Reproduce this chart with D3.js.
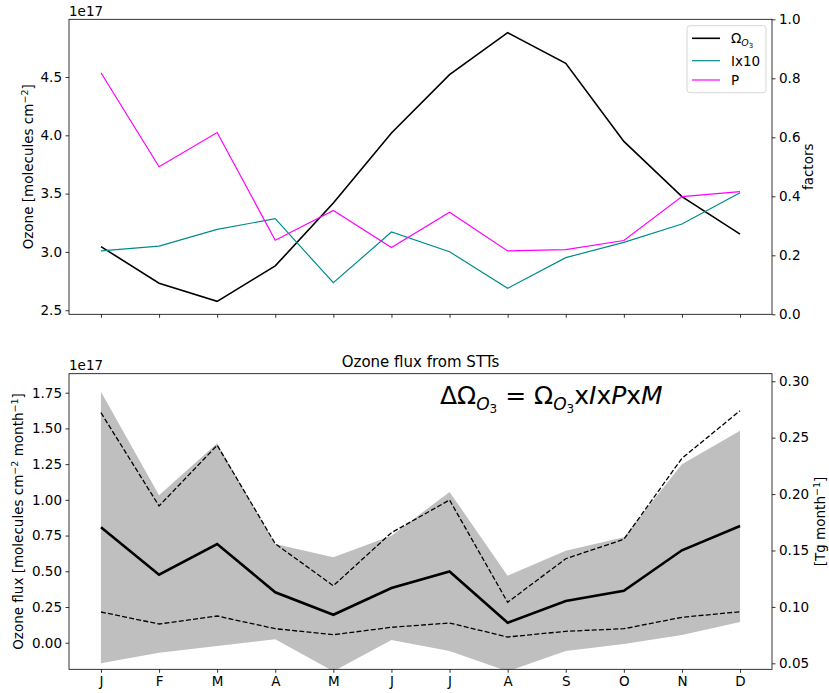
<!DOCTYPE html>
<html><head><meta charset="utf-8">
<script src="https://cdn.jsdelivr.net/npm/d3@7"></script>
<style>body{margin:0;background:#fff;} text{font-family:"DejaVu Sans",sans-serif;fill:#000;}</style>
</head><body>
<svg id="c" width="829" height="693"></svg>
<script>
const months = ["J","F","M","A","M","J","J","A","S","O","N","D"];
// top panel (ozone column, 1e17 molecules cm^-2)
const ozone = [3.046,2.731,2.576,2.88,3.42,4.02,4.52,4.88,4.618,3.948,3.474,3.152];
// factors (right axis)
const ix10 = [0.215,0.231,0.288,0.324,0.107,0.279,0.212,0.088,0.192,0.244,0.306,0.412];
const pFac = [0.819,0.500,0.616,0.251,0.352,0.226,0.346,0.215,0.219,0.250,0.399,0.416];
// bottom panel (ozone flux, 1e17 molecules cm^-2 month^-1)
const fluxMean = [0.808,0.476,0.691,0.353,0.196,0.383,0.499,0.140,0.292,0.364,0.647,0.817];
const fluxHighDash = [1.61,0.957,1.382,0.693,0.399,0.77,0.999,0.283,0.588,0.724,1.291,1.624];
const fluxLowDash = [0.215,0.131,0.187,0.098,0.056,0.108,0.138,0.040,0.080,0.098,0.178,0.217];
const bandUpper = [1.757,1.032,1.396,0.691,0.598,0.749,1.055,0.469,0.644,0.738,1.249,1.484];
const bandLower = [-0.144,-0.07,-0.023,0.024,-0.20,0.019,-0.058,-0.20,-0.058,-0.009,0.054,0.145];
const topLeftTicks = [2.5,3.0,3.5,4.0,4.5];
const topRightTicks = [0.0,0.2,0.4,0.6,0.8,1.0];
const botLeftTicks = [0.00,0.25,0.50,0.75,1.00,1.25,1.50,1.75];
const botRightTicks = [0.05,0.10,0.15,0.20,0.25,0.30];

const svg = d3.select("#c");
const L = 69, R = 772;
const x = d3.scaleLinear().domain([-0.55, 11.55]).range([L, R]);
const idx = d3.range(12);
const FS = 13.5;

function panel(top, bottom, id){
  const g = svg.append("g");
  svg.append("clipPath").attr("id", id).append("rect")
    .attr("x", L).attr("y", top).attr("width", R-L).attr("height", bottom-top);
  return g;
}
function yAxisLeft(y, ticks, fmt){
  const a = svg.append("g").attr("transform", `translate(${L},0)`)
    .call(d3.axisLeft(y).tickValues(ticks).tickFormat(fmt).tickSize(3.5).tickPadding(3.5));
  a.select(".domain").remove();
  a.selectAll("text").style("font-size", FS+"px").attr("fill","#000");
  a.selectAll("line").attr("stroke","#000").attr("stroke-width",0.8);
}
function yAxisRight(y, ticks, fmt){
  const a = svg.append("g").attr("transform", `translate(${R},0)`)
    .call(d3.axisRight(y).tickValues(ticks).tickFormat(fmt).tickSize(3.5).tickPadding(3.5));
  a.select(".domain").remove();
  a.selectAll("text").style("font-size", FS+"px").attr("fill","#000");
  a.selectAll("line").attr("stroke","#000").attr("stroke-width",0.8);
}
function xAxis(yPos, labels){
  const a = svg.append("g").attr("transform", `translate(0,${yPos})`)
    .call(d3.axisBottom(x).tickValues(idx).tickFormat(labels ? (i=>months[i]) : (()=>"")).tickSize(3.5).tickPadding(3.5));
  a.select(".domain").remove();
  a.selectAll("text").style("font-size", FS+"px").attr("fill","#000");
  a.selectAll("line").attr("stroke","#000").attr("stroke-width",0.8);
}
function frame(top, bottom){
  svg.append("rect").attr("x",L).attr("y",top).attr("width",R-L).attr("height",bottom-top)
    .attr("fill","none").attr("stroke","#000").attr("stroke-width",0.8);
}

// ---------- TOP PANEL ----------
const T1 = 19.3, B1 = 314.3;
const y1 = d3.scaleLinear().domain([2.465, 4.995]).range([B1, T1]);
const y1r = d3.scaleLinear().domain([0,1]).range([B1, T1]);
panel(T1, B1, "clipTop");
const gTop = svg.append("g").attr("clip-path","url(#clipTop)");
const lineL = d3.line().x((d,i)=>x(i)).y(d=>y1(d));
const lineR = d3.line().x((d,i)=>x(i)).y(d=>y1r(d));
gTop.append("path").datum(ozone).attr("d", lineL).attr("fill","none").attr("stroke","#000").attr("stroke-width",1.6);
gTop.append("path").datum(ix10).attr("d", lineR).attr("fill","none").attr("stroke","#008b8b").attr("stroke-width",1.2);
gTop.append("path").datum(pFac).attr("d", lineR).attr("fill","none").attr("stroke","#ff00ff").attr("stroke-width",1.2);
frame(T1, B1);
yAxisLeft(y1, topLeftTicks, d3.format(".1f"));
yAxisRight(y1r, topRightTicks, d3.format(".1f"));
xAxis(B1, false);
svg.append("text").attr("x", L).attr("y", 16).style("font-size",FS+"px").text("1e17");
// y labels
const yl1 = svg.append("text").attr("transform",`translate(33,${(T1+B1)/2}) rotate(-90)`).attr("text-anchor","middle").style("font-size",FS+"px");
yl1.append("tspan").text("Ozone [molecules cm");
yl1.append("tspan").attr("dy",-5).style("font-size","9.5px").text("\u22122");
yl1.append("tspan").attr("dy",5).text("]");
svg.append("text").attr("transform",`translate(813,${(T1+B1)/2}) rotate(-90)`).attr("text-anchor","middle").style("font-size",FS+"px").text("factors");

// legend
const lg = svg.append("g").attr("transform","translate(687,25.7)");
lg.append("rect").attr("width",79).attr("height",67).attr("rx",3).attr("fill","#fff").attr("fill-opacity",0.8).attr("stroke","#cccccc").attr("stroke-width",0.8);
const entries = [{c:"#000",w:1.6,y:12.6},{c:"#008b8b",w:1.2,y:35},{c:"#ff00ff",w:1.2,y:54.3}];
entries.forEach(e=>{
  lg.append("line").attr("x1",5).attr("x2",33).attr("y1",e.y).attr("y2",e.y).attr("stroke",e.c).attr("stroke-width",e.w);
});
const t0 = lg.append("text").attr("x",44).attr("y",12.6+5).style("font-size",FS+"px");
t0.append("tspan").text("\u03A9");
t0.append("tspan").attr("dy",3).style("font-size","9.5px").style("font-style","italic").text("O");
t0.append("tspan").attr("dy",2).style("font-size","7px").text("3");
lg.append("text").attr("x",44).attr("y",35+5).style("font-size",FS+"px").text("Ix10");
lg.append("text").attr("x",44).attr("y",54.3+5).style("font-size",FS+"px").text("P");

// ---------- BOTTOM PANEL ----------
const T2 = 373.7, B2 = 669.3;
const y2 = d3.scaleLinear().domain([-0.186, 1.883]).range([B2, T2]);
const y2r = d3.scaleLinear().domain([0.0447, 0.3067]).range([B2, T2]);
panel(T2, B2, "clipBot");
const gBot = svg.append("g").attr("clip-path","url(#clipBot)");
const area = d3.area().x((d,i)=>x(i)).y0((d,i)=>y2(bandLower[i])).y1(d=>y2(d));
gBot.append("path").datum(bandUpper).attr("d", area).attr("fill","#bfbfbf").attr("stroke","none");
const line2 = d3.line().x((d,i)=>x(i)).y(d=>y2(d));
gBot.append("path").datum(fluxHighDash).attr("d", line2).attr("fill","none").attr("stroke","#000").attr("stroke-width",1.3).attr("stroke-dasharray","5,2.2");
gBot.append("path").datum(fluxLowDash).attr("d", line2).attr("fill","none").attr("stroke","#000").attr("stroke-width",1.3).attr("stroke-dasharray","5,2.2");
gBot.append("path").datum(fluxMean).attr("d", line2).attr("fill","none").attr("stroke","#000").attr("stroke-width",2.6);
frame(T2, B2);
yAxisLeft(y2, botLeftTicks, d3.format(".2f"));
yAxisRight(y2r, botRightTicks, d3.format(".2f"));
xAxis(B2, true);
svg.append("text").attr("x", L).attr("y", 370).style("font-size",FS+"px").text("1e17");
svg.append("text").attr("x", (L+R)/2).attr("y", 367).attr("text-anchor","middle").style("font-size","15px").text("Ozone flux from STTs");
const yl2 = svg.append("text").attr("transform",`translate(23,${(T2+B2)/2}) rotate(-90)`).attr("text-anchor","middle").style("font-size",FS+"px");
yl2.append("tspan").text("Ozone flux [molecules cm");
yl2.append("tspan").attr("dy",-5).style("font-size","9.5px").text("\u22122");
yl2.append("tspan").attr("dy",5).text(" month");
yl2.append("tspan").attr("dy",-5).style("font-size","9.5px").text("\u22121");
yl2.append("tspan").attr("dy",5).text("]");
const yr2 = svg.append("text").attr("transform",`translate(825,${(T2+B2)/2}) rotate(-90)`).attr("text-anchor","middle").style("font-size",FS+"px");
yr2.append("tspan").text("[Tg month");
yr2.append("tspan").attr("dy",-5).style("font-size","9.5px").text("\u22121");
yr2.append("tspan").attr("dy",5).text("]");

// formula
const fsz = 25;
const f = svg.append("text").attr("x", 440).attr("y", 404).style("font-size",fsz+"px");
f.append("tspan").text("\u0394\u03A9");
f.append("tspan").attr("dy",6).style("font-size","17px").style("font-style","italic").text("O");
f.append("tspan").attr("dy",3).style("font-size","12px").text("3");
f.append("tspan").attr("dy",-9).text(" = \u03A9");
f.append("tspan").attr("dy",6).style("font-size","17px").style("font-style","italic").text("O");
f.append("tspan").attr("dy",3).style("font-size","12px").text("3");
f.append("tspan").attr("dy",-9).text("x");
f.append("tspan").style("font-style","italic").text("I");
f.append("tspan").text("x");
f.append("tspan").style("font-style","italic").text("P");
f.append("tspan").text("x");
f.append("tspan").style("font-style","italic").text("M");
</script>
</body></html>
